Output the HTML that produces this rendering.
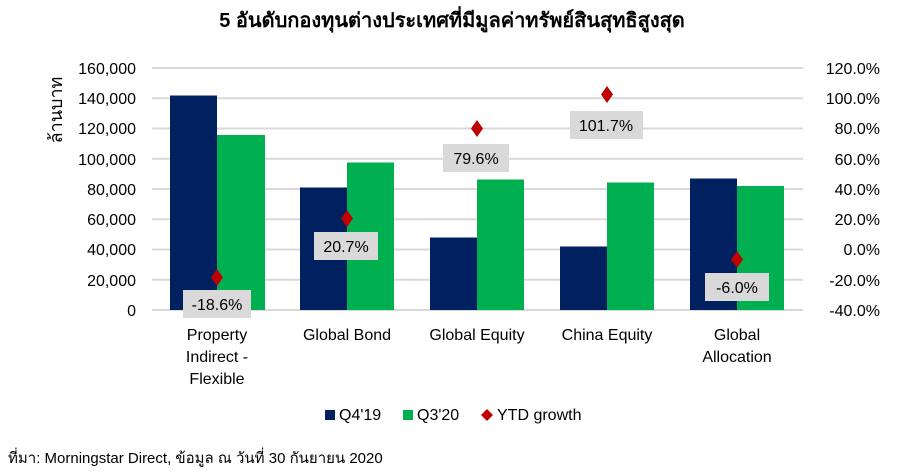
<!DOCTYPE html>
<html><head><meta charset="utf-8"><style>
body{margin:0;background:#fff;}
svg text{font-family:"Liberation Sans","Noto Sans CJK SC",sans-serif;fill:#000;}
</style></head><body>
<svg width="904" height="471" viewBox="0 0 904 471" xmlns="http://www.w3.org/2000/svg">
<rect width="904" height="471" fill="#fff"/>
<text x="452" y="27" text-anchor="middle" font-size="20" font-weight="bold">5 อันดับกองทุนต่างประเทศที่มีมูลค่าทรัพย์สินสุทธิสูงสุด</text>
<g stroke="#d9d9d9" stroke-width="2">
<line x1="152" x2="803" y1="68" y2="68"/><line x1="152" x2="803" y1="98.25" y2="98.25"/>
<line x1="152" x2="803" y1="128.5" y2="128.5"/><line x1="152" x2="803" y1="158.75" y2="158.75"/>
<line x1="152" x2="803" y1="189" y2="189"/><line x1="152" x2="803" y1="219.25" y2="219.25"/>
<line x1="152" x2="803" y1="249.5" y2="249.5"/><line x1="152" x2="803" y1="279.75" y2="279.75"/>
<line x1="152" x2="803" y1="310" y2="310"/>
</g>
<g font-size="16" text-anchor="end">
<text x="136" y="74">160,000</text><text x="136" y="104">140,000</text><text x="136" y="134">120,000</text>
<text x="136" y="165">100,000</text><text x="136" y="195">80,000</text><text x="136" y="225">60,000</text>
<text x="136" y="255">40,000</text><text x="136" y="286">20,000</text><text x="136" y="316">0</text>
</g>
<g font-size="16" text-anchor="end">
<text x="880" y="74">120.0%</text><text x="880" y="104">100.0%</text><text x="880" y="134">80.0%</text>
<text x="880" y="165">60.0%</text><text x="880" y="195">40.0%</text><text x="880" y="225">20.0%</text>
<text x="880" y="255">0.0%</text><text x="880" y="286">-20.0%</text><text x="880" y="316">-40.0%</text>
</g>
<text transform="translate(62,110) rotate(-90)" font-size="18" text-anchor="middle">ล้านบาท</text>
<g fill="#002060">
<rect x="170" y="95.5" width="47" height="214.5"/><rect x="300" y="187.5" width="47" height="122.5"/>
<rect x="430" y="237.5" width="47" height="72.5"/><rect x="560" y="246.5" width="47" height="63.5"/>
<rect x="690" y="178.5" width="47" height="131.5"/>
</g>
<g fill="#00b050">
<rect x="217" y="135" width="48" height="175"/><rect x="347" y="162.5" width="47" height="147.5"/>
<rect x="477" y="179.5" width="47" height="130.5"/><rect x="607" y="182.5" width="47" height="127.5"/>
<rect x="737" y="186" width="47" height="124"/>
</g>
<g fill="#d9d9d9">
<rect x="183" y="290" width="68" height="28"/><rect x="314" y="232" width="64" height="28"/>
<rect x="443" y="144" width="66" height="28"/><rect x="570" y="111" width="73" height="28"/>
<rect x="705" y="273" width="64" height="28"/>
</g>
<g font-size="16" text-anchor="middle">
<text x="217" y="310">-18.6%</text><text x="346" y="252">20.7%</text><text x="476" y="164">79.6%</text>
<text x="606" y="131">101.7%</text><text x="737" y="293">-6.0%</text>
</g>
<g fill="#c00000">
<polygon points="217,269 223,277.5 217,286 211,277.5"/><polygon points="347,210 353,218.5 347,227 341,218.5"/>
<polygon points="477,120 483,128.5 477,137 471,128.5"/><polygon points="607,86 613,94.5 607,103 601,94.5"/>
<polygon points="737,251 743,259.5 737,268 731,259.5"/>
</g>
<g font-size="16" text-anchor="middle">
<text x="217" y="340">Property</text><text x="217" y="362">Indirect -</text><text x="217" y="384">Flexible</text>
<text x="347" y="340">Global Bond</text><text x="477" y="340">Global Equity</text><text x="607" y="340">China Equity</text>
<text x="737" y="340">Global</text><text x="737" y="362">Allocation</text>
</g>
<rect x="325" y="410" width="10" height="10" fill="#002060"/><text x="339" y="420" font-size="16">Q4'19</text>
<rect x="403" y="410" width="10" height="10" fill="#00b050"/><text x="417" y="420" font-size="16">Q3'20</text>
<polygon points="487,409 493,415 487,421 481,415" fill="#c00000"/><text x="497" y="420" font-size="16">YTD growth</text>
<text x="8" y="463" font-size="15">ที่มา: Morningstar Direct, ข้อมูล ณ วันที่ 30 กันยายน 2020</text>
</svg>
</body></html>
